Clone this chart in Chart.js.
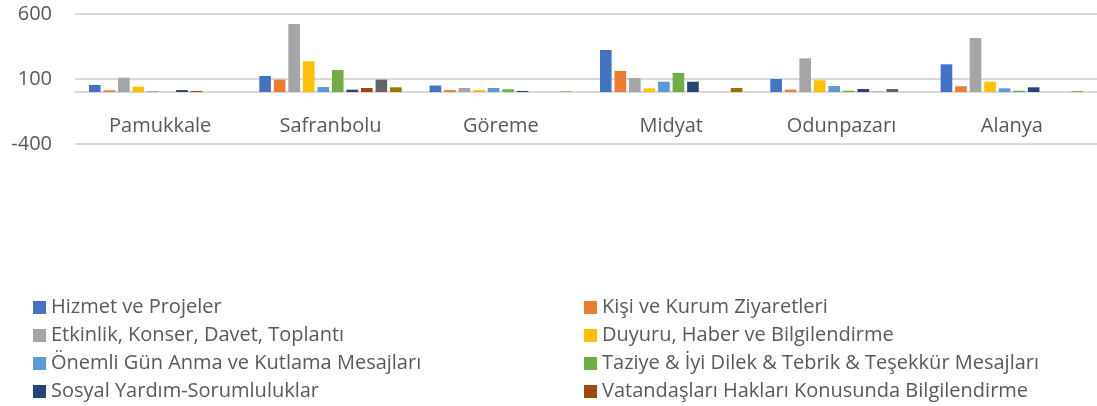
<!DOCTYPE html>
<html>
<head>
<meta charset="utf-8">
<script src="https://cdn.jsdelivr.net/npm/chart.js@4/dist/chart.umd.min.js"></script>
<style>
  body { margin: 0; background: #fff; }
  #wrap { position: relative; width: 1097px; height: 406px; }
  #legend {
    position: absolute; left: 33px; top: 292px;
    display: grid; grid-template-columns: 551px 500px;
    font-family: "Open Sans", sans-serif; font-size: 20px; color: #595959;
  }
  .item { height: 28px; line-height: 28px; white-space: nowrap; }
  .box { display: inline-block; width: 13px; height: 13px; margin-right: 5px; vertical-align: -1px; }
</style>
</head>
<body>
<div id="wrap">
  <canvas id="graph" width="1097" height="406"></canvas>
  <div id="legend"></div>
</div>
<script>
// Kategoriler (ilçeler)
const categories = ["Pamukkale", "Safranbolu", "Göreme", "Midyat", "Odunpazarı", "Alanya"];

// Seriler - değerler (yaklaşık)
const hizmet     = [54, 123, 50, 323, 100, 213];
const ziyaret    = [13, 95, 15, 162, 18, 44];
const etkinlik   = [110, 523, 31, 108, 259, 415];
const duyuru     = [41, 236, 15, 28, 90, 79];
const onemliGun  = [5, 38, 31, 79, 46, 28];
const taziye     = [0, 169, 21, 146, 10, 10];
const sosyal     = [15, 18, 8, 79, 23, 36];
const vatandas   = [8, 31, 0, 0, 2, 0];
const seri9      = [0, 95, 0, 0, 23, 0];
const seri10     = [0, 36, 3, 31, 0, 5];

const seriesNames = [
    "Hizmet ve Projeler",
    "Kişi ve Kurum Ziyaretleri",
    "Etkinlik, Konser, Davet, Toplantı",
    "Duyuru, Haber ve Bilgilendirme",
    "Önemli Gün Anma ve Kutlama Mesajları",
    "Taziye & İyi Dilek & Tebrik & Teşekkür Mesajları",
    "Sosyal Yardım-Sorumluluklar",
    "Vatandaşları Hakları Konusunda Bilgilendirme",
    "Seri 9",
    "Seri 10"
];
const seriesData = [hizmet, ziyaret, etkinlik, duyuru, onemliGun, taziye, sosyal, vatandas, seri9, seri10];
const colors = ["#4472C4", "#ED7D31", "#A5A5A5", "#FFC000", "#5B9BD5", "#70AD47", "#264478", "#9E480E", "#636363", "#997300"];
const legendCount = 8; // Excel'deki lejant sadece ilk 8 seriyi gösteriyor

const yTicks = [-400, 100, 600];

const FONT = "'Open Sans', sans-serif";

const datasets = seriesNames.map((name, i) => ({
    label: name,
    data: seriesData[i],
    backgroundColor: colors[i],
    categoryPercentage: 0.853,
    barPercentage: 0.8
}));

new Chart(document.getElementById("graph").getContext("2d"), {
    type: "bar",
    data: { labels: categories, datasets },
    options: {
        responsive: false,
        animation: false,
        layout: { padding: { left: 9, right: 0, top: 14, bottom: 262 } },
        plugins: { legend: { display: false }, tooltip: { enabled: false } },
        scales: {
            x: {
                position: { y: 0 },
                grid: { display: false },
                border: { display: true, color: "#d9d9d9", width: 2 },
                ticks: { color: "#595959", font: { family: FONT, size: 20 }, padding: 14 }
            },
            y: {
                min: yTicks[0],
                max: yTicks[yTicks.length - 1],
                afterBuildTicks: axis => { axis.ticks = yTicks.map(v => ({ value: v })); },
                afterFit: axis => { axis.width = 66; axis.paddingTop = 0; axis.paddingBottom = 0; },
                grid: { color: "#d9d9d9", lineWidth: 2, drawTicks: false },
                border: { display: false },
                ticks: { color: "#595959", font: { family: FONT, size: 20 }, padding: 23 }
            }
        }
    }
});

// Lejant (iki sütun)
const legend = document.getElementById("legend");
for (let i = 0; i < legendCount; i++) {
    const div = document.createElement("div");
    div.className = "item";
    div.innerHTML = `<span class="box" style="background:${colors[i]}"></span>${seriesNames[i]}`;
    legend.appendChild(div);
}
</script>
</body>
</html>
